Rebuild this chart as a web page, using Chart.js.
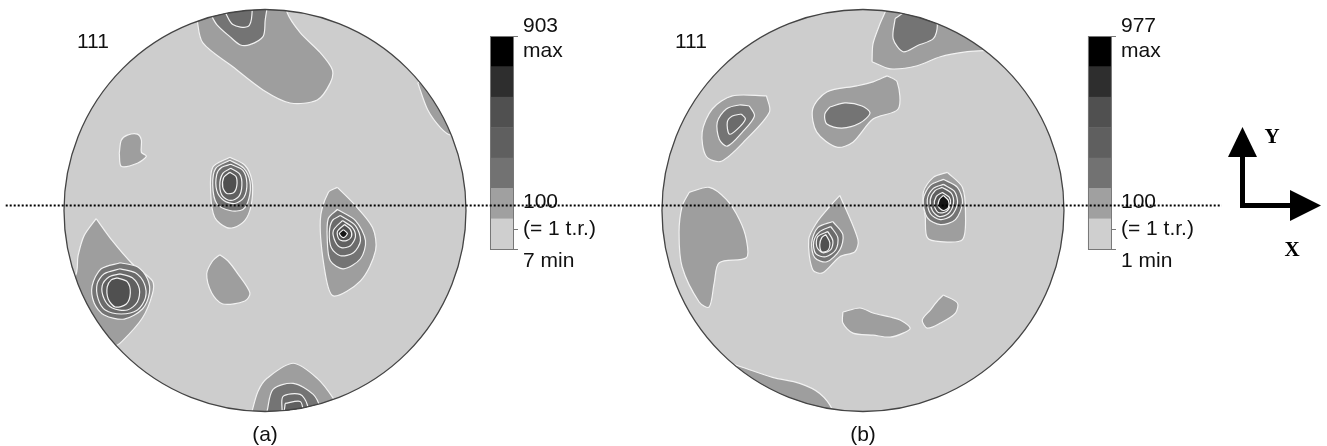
<!DOCTYPE html>
<html>
<head>
<meta charset="utf-8">
<title>111 pole figures</title>
<script src="https://cdn.jsdelivr.net/npm/chart.js@4.4.0/dist/chart.umd.min.js"></script>
<style>
  html, body { margin: 0; padding: 0; background: #ffffff; }
  #wrap { position: relative; width: 1327px; height: 446px; }
</style>
</head>
<body>
<div id="wrap"><canvas id="pf" width="1327" height="446"></canvas></div>
<script>
// Pole figure radius in data units; points are [x, y] relative to each figure centre.
const R = 100;

// Colour scale bands, band 1 (below 1 t.r.) up to band 7 (max)
const bandColors = ['#cfcfcf', '#a0a0a0', '#727272', '#5f5f5f', '#505050', '#2e2e2e', '#000000'];
// Fill shades of the contour regions inside the discs, by band
const regionShades = ['#cdcdcd', '#9e9e9e', '#747474', '#6b6b6b', '#606060', '#505050', '#151515'];

// ---- figure (a) contour regions: [band, outline] ----
const aTop = [
  [2, [[-34,96],[-31,83.5],[-16,71.5],[-1,60],[12.5,53.5],[26,55],[32.5,63.5],[33.5,70],[27.5,78.5],[17.5,88.5],[11,98.5],[10,108],[-38,108]]],
  [2, [[11.5,68.5],[13.5,68.5],[13.5,66.5],[11.5,66.5]]],
  [3, [[-27.5,98.5],[-24,92.5],[-17.5,86.5],[-12.5,82.5],[-7.5,82.5],[-1,86.5],[0,93.5],[0,108],[-30,108]]],
  [4, [[-20,99],[-16,92.5],[-8.5,91.5],[-6.5,97.5],[-7.5,108],[-20,108]]]
];
const aEdge = [
  [2, [[76,63.5],[81,50],[87.5,41],[92.5,37.5],[108,37.5],[108,70]]]
];
const aSmall = [
  [2, [[-72.5,28.5],[-71.5,35],[-68.5,37.5],[-63.5,38],[-61.5,35],[-61.5,29],[-59,27],[-63.5,23.5],[-71.5,22]]]
];
const aCentre = [
  [2, [[-17.5,26.5],[-10,22.5],[-6.5,15],[-6.5,5],[-9,-3.5],[-14,-8],[-19,-8.5],[-25,-3.5],[-27,8.5],[-26,21.5]]],
  [3, [[-17.5,25],[-10.5,21],[-7.5,14.5],[-8,6],[-11,0.5],[-17.5,0],[-24,3.5],[-26,12.5],[-24.5,21]]],
  [4, [[-17,23],[-11,20],[-9,13.5],[-10.5,6.5],[-15,3.5],[-20.5,5],[-24,10],[-24,18],[-21.5,21.5]]],
  [5, [[-17,21],[-12.5,18],[-11.5,12.5],[-13,7],[-17,5],[-21,7],[-22.5,12.5],[-21,18.5]]],
  [6, [[-17.5,19],[-14.5,17],[-14,12.5],[-15.5,9],[-19,8.5],[-21,11.5],[-20.5,16.5]]]
];
const aRight = [
  [2, [[36,11.5],[44,3.5],[53.5,-8.5],[55,-20],[47.5,-35],[34,-42.5],[30,-31.5],[27.5,-5],[31.5,9]]],
  [3, [[36,0.5],[45,-5],[50,-15],[47.5,-24],[39,-29],[32.5,-25],[31,-15],[31.5,-4]]],
  [4, [[37.5,-2.5],[45,-7.5],[47.5,-15],[44,-21],[37.5,-22.5],[33,-18.5],[32,-11],[33.5,-5]]],
  [5, [[38.5,-5],[43.5,-8.5],[45,-13],[42.5,-17.5],[38,-18.5],[35,-15.5],[34,-10]]],
  [6, [[39.5,-7],[42.5,-9.5],[43,-13],[40.5,-15],[37,-14.5],[36,-10.5]]],
  [7, [[39,-9.5],[41,-11.5],[39,-13.5],[37,-11.5]]]
];
const aLower = [
  [2, [[-22.5,-22],[-18.5,-25],[-13.5,-31.5],[-7.5,-41],[-10,-45],[-21,-46.5],[-26.5,-41],[-29,-31.5],[-26,-25]]]
];
const aLeft = [
  [2, [[-84,-4],[-76,-15],[-66,-26.5],[-56,-35],[-56,-41.5],[-61,-53.5],[-71,-65],[-75,-67.5],[-105,-67.5],[-105,-35],[-94.5,-32.5],[-93,-22.5],[-90,-12.5]]],
  [3, [[-72,-26],[-63.5,-28],[-58.5,-34],[-57.5,-41],[-61,-49],[-70,-54],[-80,-52],[-85,-46],[-86,-37.5],[-81.5,-29]]],
  [4, [[-72,-29],[-64.5,-31],[-60,-36.5],[-59.5,-43.5],[-63.5,-49.5],[-71.5,-51.5],[-79.5,-49.5],[-83,-44],[-83.5,-36.5],[-80,-31.5]]],
  [5, [[-72,-31.5],[-66,-33.5],[-62.5,-39],[-63.5,-45.5],[-68.5,-49.5],[-76,-48.5],[-80,-44],[-81,-37.5],[-77.5,-33]]],
  [6, [[-73.5,-33.5],[-68.5,-35.5],[-67,-41],[-69,-46.5],[-74.5,-48],[-78,-44],[-78.5,-38],[-76.5,-34.5]]]
];
const aBottom = [
  [2, [[-6.5,-100],[-3.5,-90],[1,-83.5],[14,-76],[26,-83.5],[34,-93.5],[36,-98.5],[38,-108],[-8,-108]]],
  [3, [[1,-100],[4,-89],[14,-86],[24,-91.5],[27.5,-98.5],[28.5,-108],[0,-108]]],
  [4, [[8.5,-100],[9,-92.5],[17.5,-91.5],[21,-96.5],[22.5,-108],[7.5,-108]]],
  [5, [[10,-96],[17.5,-95],[19,-100],[19,-108],[9.5,-108]]]
];

// ---- figure (b) contour regions ----
const bTop = [
  [2, [[4.5,74],[5,83],[8.5,93],[12,101.5],[12,108],[74,108],[74,79.5],[60,79.5],[52,79],[38.5,76.5],[27,72],[13.5,70.5]]],
  [3, [[16,95.5],[15,85.5],[20,79],[27,82],[35,85.5],[37,92],[35,98],[22,99]]]
];
const bUpperLeft = [
  [2, [[-48,57],[-46.5,49],[-58,35.5],[-70.5,24.5],[-78,27],[-80,39],[-75,50.5],[-65,57]]],
  [3, [[-56.5,52],[-54,47],[-60,39],[-67.5,32],[-71.5,35.5],[-72.5,44],[-68,50.5],[-61.5,52.5]]],
  [4, [[-60.5,48],[-58.5,45.5],[-62.5,40.5],[-66.5,38],[-67.5,44],[-65,47]]]
];
const bUpperMid = [
  [2, [[12,67],[17,64],[17.5,50.5],[5,45.5],[-5,34],[-13,31.5],[-23,39],[-25,50.5],[-18,59],[-3,62],[5,64]]],
  [3, [[-16.5,51.5],[-9,53.5],[-0.5,52],[3.5,48.5],[-1.5,43.5],[-10.5,41],[-18,43],[-19,48]]]
];
const bLeft = [
  [2, [[-86.5,9],[-76.5,11.5],[-68,5.5],[-61.5,-4.5],[-58,-14.5],[-58,-23.5],[-71.5,-26],[-74,-36],[-76.5,-48],[-81.5,-45.5],[-90,-28],[-91.5,-11],[-90,2]]]
];
const bCentre = [
  [2, [[-11.5,7.5],[-2.5,-14.5],[-4,-20.5],[-11.5,-23],[-20,-31],[-25,-29.5],[-27,-14.5],[-23,-6],[-16.5,2]]],
  [3, [[-15,-5.5],[-10,-12],[-11.5,-19.5],[-18,-25.5],[-24,-23.5],[-25.5,-16],[-22.5,-8.5]]],
  [4, [[-16,-8],[-12.5,-13.5],[-13.5,-19.5],[-18.5,-23],[-23.5,-21.5],[-24.5,-15.5],[-21.5,-10.5]]],
  [5, [[-17.5,-10.5],[-15,-15],[-16,-19.5],[-20,-21],[-23,-18],[-22.5,-13]]],
  [6, [[-18.5,-12],[-16.5,-16],[-17.5,-20],[-20.5,-20.5],[-21.5,-17],[-20.5,-13.5]]]
];
const bRight = [
  [2, [[42,19],[49.5,11.5],[51,-1],[49.5,-14.5],[38.5,-15.5],[32,-13.5],[31,-3.5],[30,9],[35,16.5]]],
  [3, [[40,15.5],[47,11.5],[49.5,4],[46,-4.5],[38.5,-7],[32,-3.5],[30,5.5],[33.5,12.5]]],
  [4, [[40,13],[45.5,9.5],[47,3.5],[44,-2.5],[38.5,-4.5],[33.5,-1.5],[32,5.5],[35,11]]],
  [5, [[39.5,11.5],[44,8.5],[45,3.5],[42.5,-1.5],[38,-3],[34.5,0],[33.5,5.5],[36,10]]],
  [6, [[39.5,9],[43,6.5],[43.5,3],[41.5,-0.5],[37.5,-1],[35.5,2.5],[36.5,7]]],
  [7, [[40,7.5],[42.5,5],[42.5,1.5],[40,0],[37.5,2],[38,5.5]]]
];
const bLowerA = [
  [2, [[-10,-50.5],[-1.5,-48.5],[5,-51],[13.5,-53],[18.5,-54.5],[23.5,-58.5],[20,-61],[13.5,-63],[5,-62],[-5,-61],[-10,-56]]]
];
const bLowerB = [
  [2, [[40,-42],[47,-46],[46,-51],[38.5,-56],[32,-58.5],[29.5,-54.5],[33.5,-49.5],[37.5,-44.5]]]
];
const bBottom = [
  [2, [[-67.5,-75.5],[-60,-78],[-45,-83],[-31.5,-86],[-21.5,-91],[-15,-99.5],[-14,-108],[-68,-108]]]
];

// Legend texts of each colour scale (top to bottom)
const scaleLabelsA = ['903', 'max', '100', '(= 1 t.r.)', '7 min'];
const scaleLabelsB = ['977', 'max', '100', '(= 1 t.r.)', '1 min'];

// The two figures side by side; cx is the figure centre on the shared x axis
const figures = [
  { caption: '(a)', pole: '111', cx: 0,     blobs: [aTop, aEdge, aSmall, aCentre, aRight, aLower, aLeft, aBottom], scale: scaleLabelsA },
  { caption: '(b)', pole: '111', cx: 297.5, blobs: [bTop, bUpperLeft, bUpperMid, bLeft, bCentre, bRight, bLowerA, bLowerB, bBottom], scale: scaleLabelsB }
];

// Horizontal reference line through both figures
const refLine = { y: 2.7, x0: -129, x1: 476 };

// ---------- datasets ----------
const datasets = [];
figures.forEach(fig => {
  fig.blobs.forEach(blob => {
    blob.forEach(([band, pts]) => {
      const data = pts.map(p => ({ x: fig.cx + p[0], y: p[1] }));
      data.push({ x: data[0].x, y: data[0].y });
      datasets.push({
        data,
        showLine: true,
        fill: 'shape',
        backgroundColor: regionShades[band - 1],
        borderColor: '#f2f2f2',
        borderWidth: 1.2,
        pointRadius: 0,
        tension: 0.3,
        order: -band
      });
    });
  });
});

const FONT = '"Liberation Sans", Arial, sans-serif';

const poleFigurePlugin = {
  id: 'poleFigure',
  beforeDatasetsDraw(chart) {
    const { ctx, scales: { x, y } } = chart;
    const discs = figures.map(f => {
      const px = x.getPixelForValue(f.cx);
      return { px, py: y.getPixelForValue(0), r: x.getPixelForValue(f.cx + R) - px };
    });
    discs.forEach(d => {
      ctx.beginPath();
      ctx.arc(d.px, d.py, d.r, 0, Math.PI * 2);
      ctx.fillStyle = regionShades[0];
      ctx.fill();
    });
    ctx.save();
    ctx.beginPath();
    discs.forEach(d => {
      ctx.moveTo(d.px + d.r, d.py);
      ctx.arc(d.px, d.py, d.r, 0, Math.PI * 2);
    });
    ctx.clip();
  },
  afterDatasetsDraw(chart) {
    const { ctx, scales: { x, y } } = chart;
    ctx.restore();

    figures.forEach(f => {
      const px = x.getPixelForValue(f.cx);
      const py = y.getPixelForValue(0);
      const r = x.getPixelForValue(f.cx + R) - px;

      // disc outline
      ctx.beginPath();
      ctx.arc(px, py, r, 0, Math.PI * 2);
      ctx.strokeStyle = '#444444';
      ctx.lineWidth = 1.3;
      ctx.stroke();

      // pole label and caption
      ctx.fillStyle = '#111111';
      ctx.font = '21px ' + FONT;
      ctx.textBaseline = 'middle';
      ctx.textAlign = 'left';
      ctx.fillText(f.pole, px - 188, 42);
      ctx.textAlign = 'center';
      ctx.fillText(f.caption, px, 435);

      // colour scale
      const bx = px + 225, bw = 23, top = 36, bottom = 249;
      const seg = (bottom - top) / bandColors.length;
      for (let i = 0; i < bandColors.length; i++) {
        ctx.fillStyle = bandColors[bandColors.length - 1 - i];
        ctx.fillRect(bx, top + i * seg, bw, seg + 0.5);
      }
      ctx.strokeStyle = '#777777';
      ctx.lineWidth = 1;
      ctx.strokeRect(bx + 0.5, top + 0.5, bw, bottom - top);
      [top, 229, bottom].forEach(ty => {
        ctx.beginPath();
        ctx.moveTo(bx + bw, ty + 0.5);
        ctx.lineTo(bx + bw + 5, ty + 0.5);
        ctx.stroke();
      });
      ctx.fillStyle = '#111111';
      ctx.font = '21px ' + FONT;
      ctx.textAlign = 'left';
      const lx = bx + 33;
      const ly = [26, 51, 202, 229, 261];
      f.scale.forEach((t, i) => ctx.fillText(t, lx, ly[i]));
    });

    // dotted reference line
    const ry = Math.round(y.getPixelForValue(refLine.y)) + 0.5;
    ctx.save();
    ctx.strokeStyle = '#000000';
    ctx.lineWidth = 2;
    ctx.setLineDash([2, 2]);
    ctx.beginPath();
    ctx.moveTo(x.getPixelForValue(refLine.x0), ry);
    ctx.lineTo(x.getPixelForValue(refLine.x1), ry);
    ctx.stroke();
    ctx.restore();

    // sample axes
    ctx.save();
    ctx.strokeStyle = '#000000';
    ctx.fillStyle = '#000000';
    ctx.lineWidth = 5;
    ctx.lineCap = 'butt';
    ctx.beginPath();
    ctx.moveTo(1242.5, 208);
    ctx.lineTo(1242.5, 150);
    ctx.moveTo(1240, 205.5);
    ctx.lineTo(1294, 205.5);
    ctx.stroke();
    ctx.beginPath();
    ctx.moveTo(1228, 157);
    ctx.lineTo(1257, 157);
    ctx.lineTo(1242.5, 127);
    ctx.closePath();
    ctx.fill();
    ctx.beginPath();
    ctx.moveTo(1290, 190);
    ctx.lineTo(1290, 221);
    ctx.lineTo(1321, 205.5);
    ctx.closePath();
    ctx.fill();
    ctx.font = 'bold 21px "Liberation Serif", "Times New Roman", serif';
    ctx.textAlign = 'center';
    ctx.textBaseline = 'middle';
    ctx.fillText('Y', 1272, 138);
    ctx.fillText('X', 1292, 251);
    ctx.restore();
  }
};

new Chart(document.getElementById('pf'), {
  type: 'scatter',
  data: { datasets },
  options: {
    responsive: false,
    animation: false,
    events: [],
    layout: { padding: 0 },
    scales: {
      x: { type: 'linear', display: false, min: -131.84, max: 528.36 },
      y: { type: 'linear', display: false, min: -117.16, max: 104.73 }
    },
    plugins: {
      legend: { display: false },
      tooltip: { enabled: false }
    }
  },
  plugins: [poleFigurePlugin]
});
</script>
</body>
</html>
